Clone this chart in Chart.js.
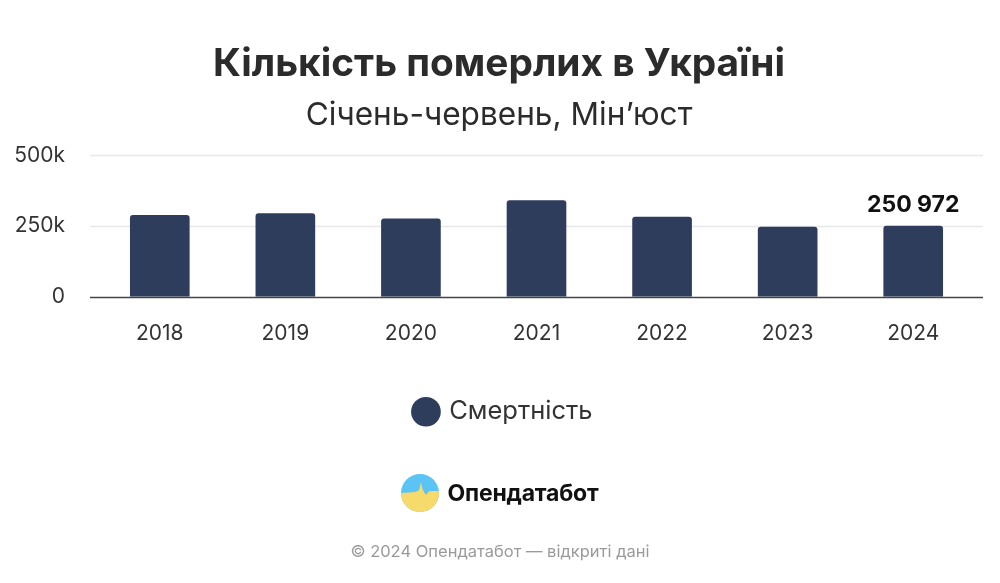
<!DOCTYPE html>
<html>
<head>
<meta charset="utf-8">
<script src="https://cdn.jsdelivr.net/npm/chart.js@4/dist/chart.umd.min.js"></script>
<style>
  html, body { margin: 0; padding: 0; background: #fff; }
  #wrap { position: relative; width: 1000px; height: 583px; font-family: Inter, "Noto Sans", sans-serif; }
  #chart { position: absolute; left: 0; top: 0; }
  #brand { position: absolute; left: 0; top: 474px; width: 1000px; display: flex; justify-content: center; align-items: center; gap: 8px; }
  #brand span { font-size: 23px; font-weight: 700; color: #111; letter-spacing: -0.2px; }
  #foot { position: absolute; left: 0; top: 541px; width: 1000px; text-align: center; font-size: 16.5px; color: #9a9a9a; }
</style>
</head>
<body>
<div id="wrap">
  <canvas id="chart" width="1000" height="583"></canvas>
  <div id="brand">
    <svg width="38" height="38" viewBox="0 0 38 38">
      <defs><clipPath id="c"><circle cx="19" cy="19" r="19"/></clipPath></defs>
      <g clip-path="url(#c)">
        <rect x="0" y="0" width="38" height="38" fill="#5bc4f5"/>
        <polygon fill="#f6da6b" points="0,19 8,18.5 14,18 17,17 18.5,15 20,8 21.5,15 23,18 24.5,20.5 26,20 27.5,17.5 30,17 34,17 38,17 38,38 0,38"/>
      </g>
    </svg>
    <span>Опендатабот</span>
  </div>
  <div id="foot">© 2024 Опендатабот — відкриті дані</div>
</div>
<script>
const years = ['2018', '2019', '2020', '2021', '2022', '2023', '2024'];
const deaths = [289000, 296000, 277000, 342000, 283000, 248000, 250972];
const yTicks = [0, 250000, 500000];
const seriesName = 'Смертність';

const barColor = '#2e3d5c';
const overhang = 7;

// gridlines and baseline run a little past the plot area on both sides
const gridLines = {
  id: 'gridLines',
  beforeDatasetsDraw(chart) {
    const { ctx: c, chartArea: a, scales: { y } } = chart;
    c.save();
    yTicks.forEach(v => {
      const py = Math.round(y.getPixelForValue(v)) + 0.5;
      c.strokeStyle = v === 0 ? '#444' : '#e8e8e8';
      c.lineWidth = 1.5;
      c.beginPath();
      c.moveTo(a.left - overhang, py);
      c.lineTo(a.right + overhang, py);
      c.stroke();
    });
    c.restore();
  }
};

// titles and legend sit centred on the page, not on the padded box
const recentre = {
  id: 'recentre',
  afterLayout(chart) {
    chart.boxes.forEach(b => {
      if (!b.fullSize) return;
      const dx = b === chart.legend ? 12 : 7;
      b.left += dx;
      b.right += dx;
    });
  }
};

const valueLabel = {
  id: 'valueLabel',
  afterDatasetsDraw(chart) {
    const meta = chart.getDatasetMeta(0);
    const last = meta.data[meta.data.length - 1];
    const c = chart.ctx;
    c.save();
    c.font = 'bold 23px Inter, "Noto Sans", sans-serif';
    c.fillStyle = '#111';
    c.textAlign = 'center';
    c.textBaseline = 'bottom';
    const v = deaths[deaths.length - 1];
    c.fillText(v.toLocaleString('en-US').replace(/,/g, ' '), last.x, last.y - 9);
    c.restore();
  }
};

const ctx = document.getElementById('chart');
const chart = new Chart(ctx, {
  type: 'bar',
  data: {
    labels: years,
    datasets: [{
      label: seriesName,
      data: deaths,
      backgroundColor: barColor,
      borderRadius: 3,
      borderSkipped: 'bottom',
      categoryPercentage: 0.5,
      barPercentage: 0.95
    }]
  },
  options: {
    responsive: false,
    animation: false,
    layout: { padding: { left: 8, right: 24, bottom: 148.5, top: 0 } },
    plugins: {
      title: {
        display: true,
        text: 'Кількість померлих в Україні',
        color: '#2b2b2b',
        font: { family: 'Inter', size: 38.8, weight: 'bold' },
        padding: { top: 41, bottom: 6 }
      },
      subtitle: {
        display: true,
        text: 'Січень-червень, Мін’юст',
        color: '#2b2b2b',
        font: { family: 'Inter', size: 31.6, weight: 'normal' },
        padding: { top: 3, bottom: 21 }
      },
      legend: {
        position: 'bottom',
        labels: {
          usePointStyle: true,
          pointStyle: 'circle',
          boxWidth: 21,
          boxHeight: 21,
          padding: 29,
          color: '#333',
          font: { family: 'Inter', size: 25.5 }
        }
      },
      tooltip: { enabled: false }
    },
    scales: {
      x: {
        grid: { display: false, drawTicks: false },
        border: { display: false },
        ticks: { color: '#333', padding: 24, font: { family: 'Inter', size: 21 } }
      },
      y: {
        min: 0,
        max: 500000,
        afterBuildTicks(axis) { axis.ticks = yTicks.map(v => ({ value: v })); },
        afterFit(axis) { axis.width = 89; },
        grid: { display: false, drawTicks: false },
        border: { display: false },
        ticks: {
          color: '#333',
          padding: 32,
          font: { family: 'Inter', size: 21 },
          callback: v => v === 0 ? '0' : (v / 1000) + 'k'
        }
      }
    }
  },
  plugins: [gridLines, recentre, valueLabel]
});
</script>
</body>
</html>
